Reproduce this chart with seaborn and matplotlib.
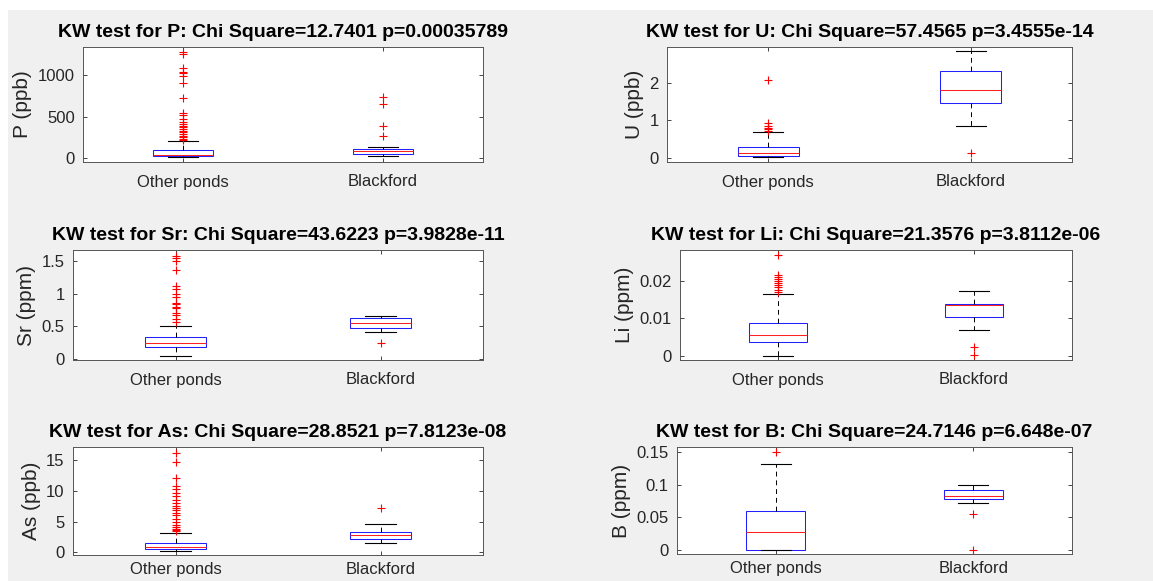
import numpy as np
import pandas as pd
import matplotlib
matplotlib.use("Agg")
import matplotlib.pyplot as plt
import seaborn as sns
from matplotlib.ticker import FuncFormatter, FixedLocator
from matplotlib.patches import Rectangle

groups = ["Other ponds", "Blackford"]

# Box summaries: [lower whisker, Q1, median, Q3, upper whisker]
P_other_box = [12, 28, 40, 99, 202]
P_black_box = [28, 52, 79, 111, 127]
P_other_out = [1280, 1255, 1090, 1040, 1025, 990, 910, 720, 545, 520, 470, 440,
               410, 390, 370, 350, 330, 310, 290, 270, 250, 235, 220]
P_black_out = [735, 655, 385, 270]

U_other_box = [0.02, 0.05, 0.13, 0.29, 0.67]
U_black_box = [0.84, 1.45, 1.79, 2.30, 2.84]
U_other_out = [2.07, 0.92, 0.85, 0.79, 0.75, 0.72]
U_black_out = [0.11]

Sr_other_box = [0.046, 0.18, 0.25, 0.34, 0.50]
Sr_black_box = [0.41, 0.48, 0.556, 0.63, 0.66]
Sr_other_out = [1.58, 1.55, 1.50, 1.36, 1.12, 1.07, 1.00, 0.95, 0.86, 0.84,
                0.80, 0.78, 0.71, 0.67, 0.62, 0.57]
Sr_black_out = [0.25]

Li_other_box = [0.0, 0.0037, 0.0055, 0.0088, 0.0164]
Li_black_box = [0.0069, 0.0103, 0.01345, 0.0138, 0.0172]
Li_other_out = [0.0267, 0.0214, 0.0210, 0.0204, 0.0199, 0.0193, 0.0188,
                0.0182, 0.0176, 0.0170]
Li_black_out = [0.0023, 0.0003]

As_other_box = [0.27, 0.48, 0.9, 1.55, 3.2]
As_black_box = [1.44, 2.24, 2.88, 3.31, 4.6]
As_other_out = [16.2, 14.6, 12.0, 10.7, 10.25, 9.7, 9.2, 8.5, 8.0, 7.6, 7.15,
                6.8, 6.4, 6.0, 5.45, 4.9, 4.5, 4.1, 3.85, 3.6, 3.4]
As_black_out = [7.2]

B_other_box = [0.0, 0.0, 0.0282, 0.0599, 0.131]
B_black_box = [0.0718, 0.0782, 0.0832, 0.0916, 0.100]
B_other_out = [0.150]
B_black_out = [0.055, 0.0]

titles = [
    "KW test for P: Chi Square=12.7401 p=0.00035789",
    "KW test for U: Chi Square=57.4565 p=3.4555e-14",
    "KW test for Sr: Chi Square=43.6223 p=3.9828e-11",
    "KW test for Li: Chi Square=21.3576 p=3.8112e-06",
    "KW test for As: Chi Square=28.8521 p=7.8123e-08",
    "KW test for B: Chi Square=24.7146 p=6.648e-07",
]
ylabels = ["P (ppb)", "U (ppb)", "Sr (ppm)", "Li (ppm)", "As (ppb)", "B (ppm)"]
yticks = [[0, 500, 1000], [0, 1, 2], [0, 0.5, 1, 1.5], [0, 0.01, 0.02],
          [0, 5, 10, 15], [0, 0.05, 0.1, 0.15]]
ylims = [(-48, 1338), (-0.12, 2.95), (-0.016, 1.67), (-0.00105, 0.0281),
         (-0.43, 17.1), (-0.0059, 0.1574)]

panels = [
    (P_other_box, P_black_box, P_other_out, P_black_out),
    (U_other_box, U_black_box, U_other_out, U_black_out),
    (Sr_other_box, Sr_black_box, Sr_other_out, Sr_black_out),
    (Li_other_box, Li_black_box, Li_other_out, Li_black_out),
    (As_other_box, As_black_box, As_other_out, As_black_out),
    (B_other_box, B_black_box, B_other_out, B_black_out),
]

# axes rectangles in pixels (left, top, right, bottom)
W, H = 1153, 581
rects_px = [
    (83, 47, 483, 162), (667, 47, 1072, 162),
    (73, 250, 483, 360), (680, 250, 1072, 360),
    (73, 447, 483, 555), (677, 447, 1072, 554),
]

plt.rcParams["font.family"] = ["Liberation Sans", "DejaVu Sans"]
AX_COL = "#262626"

fig = plt.figure(figsize=(W / 100, H / 100), dpi=100)
fig.patch.set_facecolor("white")
fig.add_artist(Rectangle((8 / W, 0), 1 - 8 / W, 1 - 10 / H,
                         transform=fig.transFigure, facecolor="#f0f0f0",
                         edgecolor="none", zorder=-10))

fmt = FuncFormatter(lambda v, p: "{:g}".format(round(v, 6)))

for i, (ob, bb, oo, bo) in enumerate(panels):
    l, t, r, b = rects_px[i]
    ax = fig.add_axes([l / W, 1 - b / H, (r - l) / W, (b - t) / H])
    ax.set_facecolor("white")
    box_df = pd.DataFrame({"group": [groups[0]] * len(ob) + [groups[1]] * len(bb),
                           "value": list(ob) + list(bb)})
    out_df = pd.DataFrame({"group": [groups[0]] * len(oo) + [groups[1]] * len(bo),
                           "value": list(oo) + list(bo)})
    sns.boxplot(data=box_df, x="group", y="value", order=groups, ax=ax,
                whis=(0, 100), showfliers=False, width=0.3,
                boxprops=dict(facecolor="none", edgecolor="#2020ff", linewidth=0.75),
                medianprops=dict(color="#ff2020", linewidth=0.75),
                whiskerprops=dict(color="black", linewidth=0.7, linestyle=(0, (5, 4))),
                capprops=dict(color="black", linewidth=0.8))
    sns.stripplot(data=out_df, x="group", y="value", order=groups, ax=ax,
                  jitter=False, marker="+", color="red", edgecolor="red",
                  size=6, linewidth=0.8)
    ax.set_xlim(-0.5, 1.5)
    ax.set_ylim(*ylims[i])
    ax.yaxis.set_major_locator(FixedLocator(yticks[i]))
    ax.yaxis.set_major_formatter(fmt)
    ax.set_xticks([0, 1])
    ax.set_xticklabels(groups)
    ax.set_xlabel("")
    ax.set_ylabel(ylabels[i], fontsize=15, color=AX_COL, labelpad=4)
    ax.set_title(titles[i], fontsize=14, fontweight="bold", color="black", pad=7)
    ax.tick_params(direction="in", top=True, right=True, length=3,
                   width=0.6, color=AX_COL, labelsize=12, labelcolor=AX_COL)
    ax.tick_params(axis="x", pad=5 if i >= 4 else 9)
    ax.tick_params(axis="y", pad=6)
    for s in ax.spines.values():
        s.set_color("#555555")
        s.set_linewidth(0.7)

fig.savefig("out.png", dpi=100)
